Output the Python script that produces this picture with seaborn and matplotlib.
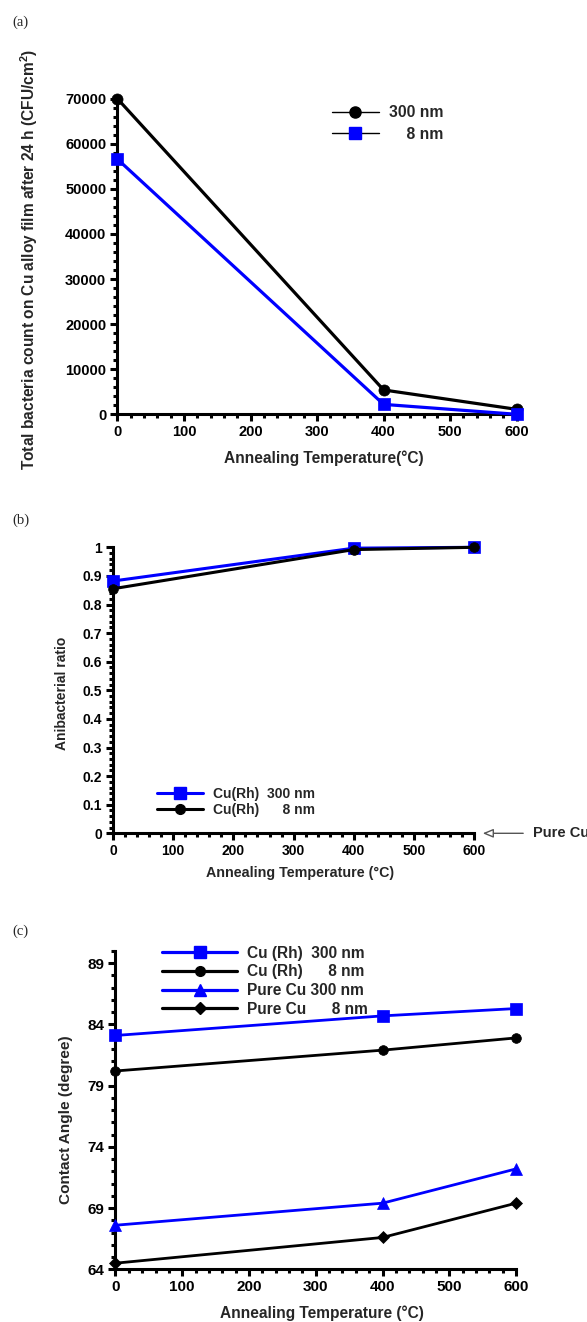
import matplotlib
matplotlib.use("Agg")
import matplotlib.pyplot as plt
import seaborn as sns
import pandas as pd
from matplotlib.lines import Line2D
from matplotlib.ticker import MultipleLocator, FixedLocator

# ---------------- data ----------------
temperature = [0, 400, 600]

# (a) total bacteria count (CFU/cm^2)
a_300nm = [70000, 5400, 1100]
a_8nm = [56600, 2200, 0]

# (b) antibacterial ratio
b_curh_300nm = [0.882, 0.997, 1.0]
b_curh_8nm = [0.855, 0.992, 1.0]

# (c) contact angle (degree)
c_curh_300nm = [83.1, 84.7, 85.3]
c_curh_8nm = [80.2, 81.9, 82.9]
c_pure_300nm = [67.6, 69.4, 72.2]
c_pure_8nm = [64.5, 66.6, 69.4]

x_ticks = [0, 100, 200, 300, 400, 500, 600]
a_yticks = [0, 10000, 20000, 30000, 40000, 50000, 60000, 70000]
b_yticks = [0, 0.1, 0.2, 0.3, 0.4, 0.5, 0.6, 0.7, 0.8, 0.9, 1.0]
b_yticklabels = ["0", "0.1", "0.2", "0.3", "0.4", "0.5", "0.6", "0.7", "0.8", "0.9", "1"]
c_yticks = [64, 69, 74, 79, 84, 89]

a_labels = ["300 nm", "    8 nm"]
b_labels = ["Cu(Rh)  300 nm", "Cu(Rh)      8 nm"]
c_labels = ["Cu (Rh)  300 nm", "Cu (Rh)      8 nm", "Pure Cu 300 nm", "Pure Cu      8 nm"]

BLUE = "#0000ff"
BLACK = "#000000"

# ---------------- style ----------------
sns.set_theme(style="ticks")
plt.rcParams["font.family"] = ["Liberation Sans", "DejaVu Sans"]
plt.rcParams["font.weight"] = "bold"
plt.rcParams["axes.labelweight"] = "bold"
plt.rcParams["mathtext.fontset"] = "custom"
plt.rcParams["mathtext.rm"] = "Liberation Sans:bold"
plt.rcParams["mathtext.bf"] = "Liberation Sans:bold"

W, H = 587, 1322
fig = plt.figure(figsize=(W / 100, H / 100), dpi=100)
fig.patch.set_facecolor("white")


def add_ax(x0, x1, ytop, ybot):
    return fig.add_axes([x0 / W, 1 - ybot / H, (x1 - x0) / W, (ybot - ytop) / H])


def fpt(x, y):
    return (x / W, 1 - y / H)


def style(ax, tick_size, spine_lw=2.2):
    ax.set_facecolor("white")
    sns.despine(ax=ax)
    for s in ["left", "bottom"]:
        ax.spines[s].set_linewidth(spine_lw)
        ax.spines[s].set_color("black")
    ax.tick_params(which="major", direction="out", length=5, width=spine_lw,
                   color="black", labelsize=tick_size, pad=3, labelcolor="black")
    ax.tick_params(which="minor", direction="out", length=2.8, width=spine_lw, color="black")
    ax.grid(False)


def series(ax, y, color, marker, ms, lw, z):
    sns.lineplot(x=temperature, y=y, ax=ax, color=color, marker=marker,
                 markersize=ms, linewidth=lw, markeredgecolor=color,
                 markerfacecolor=color, markeredgewidth=0.5,
                 clip_on=False, zorder=z, legend=False)


# ---------------- (a) ----------------
ax_a = add_ax(117.4, 516.7, 98.7, 414.3)
series(ax_a, a_300nm, BLACK, "o", 8, 2.3, 3)
series(ax_a, a_8nm, BLUE, "s", 8.5, 2.3, 4)
ax_a.set_xlim(0, 600)
ax_a.set_ylim(0, 70000)
ax_a.xaxis.set_major_locator(FixedLocator(x_ticks))
ax_a.xaxis.set_minor_locator(MultipleLocator(20))
ax_a.yaxis.set_major_locator(FixedLocator(a_yticks))
ax_a.yaxis.set_minor_locator(MultipleLocator(2000))
style(ax_a, 10.5)
ax_a.set_xlabel("Annealing Temperature(°C)", fontsize=11.2, va="center")
ax_a.xaxis.set_label_coords(0.517, -0.1394)
ax_a.set_ylabel(r"Total bacteria count on Cu alloy film after 24 h (CFU/cm$^\mathbf{2}$)",
                fontsize=11.2, va="center")
ax_a.yaxis.set_label_coords(-0.2214, 0.49)
h_a = [Line2D([], [], color=BLACK, lw=1.0, marker="o", ms=8, mfc=BLACK, mec=BLACK),
       Line2D([], [], color=BLACK, lw=1.0, marker="s", ms=8.5, mfc=BLUE, mec=BLUE)]
ax_a.legend(h_a, a_labels, loc="center left", bbox_to_anchor=fpt(331.7, 123.7),
            bbox_transform=fig.transFigure, frameon=False, borderpad=0, borderaxespad=0,
            handlelength=3.0, handletextpad=0.64, labelspacing=0.41,
            prop={"size": 11.3, "weight": "bold"})

# ---------------- (b) ----------------
ax_b = add_ax(112.9, 474.3, 547.3, 833.3)
series(ax_b, b_curh_300nm, BLUE, "s", 8.5, 2.2, 3)
series(ax_b, b_curh_8nm, BLACK, "o", 7, 2.2, 4)
ax_b.set_xlim(0, 600)
ax_b.set_ylim(0, 1)
ax_b.xaxis.set_major_locator(FixedLocator(x_ticks))
ax_b.xaxis.set_minor_locator(MultipleLocator(20))
ax_b.set_yticks(b_yticks)
ax_b.set_yticklabels(b_yticklabels)
ax_b.yaxis.set_minor_locator(MultipleLocator(0.02))
style(ax_b, 10)
ax_b.set_xlabel("Annealing Temperature (°C)", fontsize=10.3, va="center")
ax_b.xaxis.set_label_coords(0.5177, -0.1378)
ax_b.set_ylabel("Anibacterial ratio", fontsize=10, va="center")
ax_b.yaxis.set_label_coords(-0.1408, 0.4906)
h_b = [Line2D([], [], color=BLUE, lw=2.2, marker="s", ms=8.5, mfc=BLUE, mec=BLUE),
       Line2D([], [], color=BLACK, lw=2.2, marker="o", ms=7, mfc=BLACK, mec=BLACK)]
ax_b.legend(h_b, b_labels, loc="center left", bbox_to_anchor=fpt(156.7, 801.7),
            bbox_transform=fig.transFigure, frameon=False, borderpad=0, borderaxespad=0,
            handlelength=3.3, handletextpad=0.75, labelspacing=0.17,
            prop={"size": 10, "weight": "bold"})
ax_b.annotate("Pure Cu", xy=(614, 0), xytext=(697, 0), textcoords="data",
              ha="left", va="center", fontsize=10.5, fontweight="bold",
              annotation_clip=False,
              arrowprops=dict(arrowstyle="-|>,head_length=0.6,head_width=0.25",
                              fc="white", ec="#555555", lw=1.0, shrinkA=4.5, shrinkB=0))

# ---------------- (c) ----------------
ax_c = add_ax(115.5, 516.0, 951.0, 1269.3)
series(ax_c, c_curh_300nm, BLUE, "s", 9, 2.0, 4)
series(ax_c, c_curh_8nm, BLACK, "o", 7, 2.0, 4)
series(ax_c, c_pure_300nm, BLUE, "^", 8, 2.0, 4)
series(ax_c, c_pure_8nm, BLACK, "D", 6, 2.0, 4)
ax_c.set_xlim(0, 600)
ax_c.set_ylim(64, 90)
ax_c.xaxis.set_major_locator(FixedLocator(x_ticks))
ax_c.xaxis.set_minor_locator(MultipleLocator(20))
ax_c.yaxis.set_major_locator(FixedLocator(c_yticks))
ax_c.yaxis.set_minor_locator(MultipleLocator(1))
style(ax_c, 11)
ax_c.set_xlabel("Annealing Temperature (°C)", fontsize=11.2, va="center")
ax_c.xaxis.set_label_coords(0.5156, -0.1373)
ax_c.set_ylabel("Contact Angle (degree)", fontsize=11.1, va="center")
ax_c.yaxis.set_label_coords(-0.1246, 0.469)
h_c = [Line2D([], [], color=BLUE, lw=2.3, marker="s", ms=9, mfc=BLUE, mec=BLUE),
       Line2D([], [], color=BLACK, lw=2.3, marker="o", ms=7, mfc=BLACK, mec=BLACK),
       Line2D([], [], color=BLUE, lw=2.3, marker="^", ms=8, mfc=BLUE, mec=BLUE),
       Line2D([], [], color=BLACK, lw=2.3, marker="D", ms=6, mfc=BLACK, mec=BLACK)]
ax_c.legend(h_c, c_labels, loc="center left", bbox_to_anchor=fpt(162.4, 981.3),
            bbox_transform=fig.transFigure, frameon=False, borderpad=0, borderaxespad=0,
            handlelength=4.8, handletextpad=0.67, labelspacing=0.24,
            prop={"size": 11.2, "weight": "bold"})

# ---------------- panel letters ----------------
for lab, y in [("(a)", 22), ("(b)", 520.7), ("(c)", 931.7)]:
    fig.text(12 / W, 1 - y / H, lab, ha="left", va="center", fontsize=10.5,
             fontweight="normal", family=["Liberation Serif", "DejaVu Serif"])

fig.savefig("out.png", dpi=100, facecolor="white")
